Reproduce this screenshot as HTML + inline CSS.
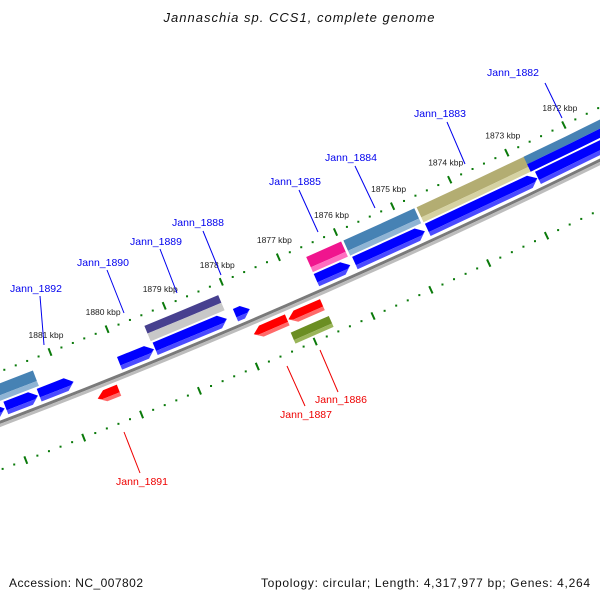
<!DOCTYPE html>
<html><head><meta charset="utf-8"><style>
html,body{margin:0;padding:0;background:#fff;}
svg{display:block;}
</style></head><body>
<svg id="chart" width="600" height="600" viewBox="0 0 600 600" xmlns="http://www.w3.org/2000/svg">
<rect x="0" y="0" width="600" height="600" fill="#fff"/>
<text x="299" y="22" text-anchor="middle" font-family="Liberation Sans, sans-serif" font-style="italic" font-size="13" fill="#111" textLength="271">Jannaschia sp. CCS1, complete genome</text>
<g id="layer"></g>
<text x="9" y="587" font-family="Liberation Sans, sans-serif" font-size="12" fill="#111" textLength="134">Accession: NC_007802</text>
<text x="590" y="587" text-anchor="end" font-family="Liberation Sans, sans-serif" font-size="12" fill="#111" textLength="329">Topology: circular; Length: 4,317,977 bp; Genes: 4,264</text>
</svg>
<script>
// ---- data ----
const kbpTicks = [1872,1873,1874,1875,1876,1877,1878,1879,1880,1881];
const kbpTickLabels = ["1872 kbp","1873 kbp","1874 kbp","1875 kbp","1876 kbp","1877 kbp","1878 kbp","1879 kbp","1880 kbp","1881 kbp"];
// features: start kbp (left), end kbp (right), track, colour key, arrow direction
const featStart = [1882.35,1879.42,1876.59,1875.94,1874.66,1872.79, 1882.4,1882.0,1881.42,1880.02,1879.40,1878.00,1876.59,1875.92,1874.65,1872.73, 1880.56,1877.85,1877.25,1877.30];
const featEnd   = [1881.37,1878.13,1875.98,1874.70,1872.73,1871.3,  1882.02,1881.44,1880.82,1879.42,1878.15,1877.75,1876.00,1874.70,1872.74,1871.3, 1880.19,1877.27,1876.66,1876.64];
const featTrack = ["r1","r1","r1","r1","r1","r1s", "r2","r2","r2","r2","r2","r2","r2","r2","r2","r2", "red","red","red","olive"];
const featColor = ["steel","purple","pink","steel","khaki","steelblue", "blue","blue","blue","blue","blue","blue","blue","blue","blue","blue", "red","red","red","olive"];
const featArrow = [0,0,0,0,0,0, 1,1,1,1,1,1,1,1,1,1, -1,-1,-1,0];
const featName  = ["jann-1892-gene","jann-1889-gene","jann-1885-gene","jann-1884-gene","jann-1883-gene","jann-1882-gene","cds-a","cds-b","cds-c","cds-1890","cds-1889","cds-1888","cds-1885","cds-1884","cds-1883","cds-1882","jann-1891-cds","jann-1887-cds","jann-1886-cds","jann-1886-gene"];
const geneLabels = ["Jann_1882","Jann_1883","Jann_1884","Jann_1885","Jann_1888","Jann_1889","Jann_1890","Jann_1892","Jann_1891","Jann_1887","Jann_1886"];
const geneLabelColor = ["#0000ee","#0000ee","#0000ee","#0000ee","#0000ee","#0000ee","#0000ee","#0000ee","#ee0000","#ee0000","#ee0000"];
const geneLabelX = [513,440,351,295,198,156,103,36,142,306,341];
const geneLabelY = [76,117,161,185,226,245,266,292,485,418,403];
const leaderX1 = [545,447,355,299,203,160,107,40,124,287,320];
const leaderY1 = [83,122,166,190,231,249,270,296,432,366,350];
const leaderX2 = [562,465,375,318,221,177,124,44,140,305,338];
const leaderY2 = [118,164,208,232,275,293,313,345,473,406,392];

// ---- geometry ----
const tracks = {r1:[11,27.5], r1s:[11,27.5], r2:[29.5,43], red:[55,67], olive:[74,86]};
function axisS(k){ return 1881 - k; }
function P(k, d){
  const s = axisS(k);
  const x = 50 + 57.1*s, y = 352 - 22.47*s - 0.3056*s*s;
  const tx = 57.1, ty = -22.47 - 0.6112*s, L = Math.hypot(tx,ty);
  return [x + d*(-ty/L), y + d*(tx/L)];
}
const NS="http://www.w3.org/2000/svg";
const layer=document.getElementById('layer');
function mk(tag, attrs){ const e=document.createElementNS(NS,tag); for(const a in attrs) e.setAttribute(a,attrs[a]); layer.appendChild(e); return e; }
function band(k0,k1,d0,d1,n){
  n=n||2; const top=[],bot=[];
  for(let i=0;i<=n;i++){ const k=k0+(k1-k0)*i/n; top.push(P(k,d0)); bot.push(P(k,d1)); }
  return top.concat(bot.reverse());
}
function pts(a){ return a.map(p=>p[0].toFixed(1)+','+p[1].toFixed(1)).join(' '); }
const pal = {
  blue:["#0000ff","#4b4bff"], red:["#ff0000","#ff6a6a"], steel:["#4682b4","#8fb4d4"],
  steelblue:["#4682b4","#0000ff"], khaki:["#b3ad72","#d6d2a2"], pink:["#f0158e","#ff6ec0"],
  purple:["#47408f","#c8c8c8"], olive:["#6b8e23","#9ab55a"]
};

// backbone
{
  const b1 = mk('polygon',{points:pts(band(1883.5,1869.5,46,49,20)),fill:'#7a7a7a'});
  
  
  const b2 = mk('polygon',{points:pts(band(1883.5,1869.5,49,52,20)),fill:'#bdbdbd'});
  
  
}
// scales
function drawScale(d, nm){
  for(let i=-15;i<=70;i++){
    const k = 1883 - i*0.2;
    const major = Math.abs(k - Math.round(k))<1e-6;
    if(major){
      const a=P(k,d-4), b=P(k,d+4);
      const t = mk('line',{x1:a[0],y1:a[1],x2:b[0],y2:b[1],stroke:'#0a7a0a','stroke-width':2});
      
      
    } else {
      const c=P(k,d);
      const t = mk('rect',{x:c[0]-1,y:c[1]-1,width:2,height:2,fill:'#0a7a0a'});
      
      
    }
  }
}
drawScale(0,'upper-scale');
drawScale(92,'lower-scale');
kbpTicks.forEach((k,i)=>{
  const p=P(k,0);
  const t=mk('text',{x:p[0]-4,y:p[1]-14,'text-anchor':'middle','font-family':'Liberation Sans, sans-serif','font-size':'8.5',fill:'#222'});
  t.textContent=kbpTickLabels[i];
  
  
});
// features
featStart.forEach((k0,i)=>{
  const k1=featEnd[i], tr=tracks[featTrack[i]], c=pal[featColor[i]];
  const d0=tr[0], d1=tr[1], dm = featColor[i]==='steelblue'||featColor[i]==='purple' ? (d0+d1)/2 : d0+(d1-d0)*0.68;
  const arrow=featArrow[i], tip=0.13;
  const g=document.createElementNS(NS,'g'); layer.appendChild(g);
  
  
  let main, lite;
  if(arrow===1){
    main=[P(k0,d0),P(k1+tip,d0),P(k1,(d0+d1)/2),P(k1+tip*0.5,dm),P(k0,dm)];
    lite=[P(k0,dm),P(k1+tip*0.5,dm),P(k1,(d0+d1)/2),P(k1+tip,d1),P(k0,d1)];
  } else if(arrow===-1){
    main=[P(k0-tip,d0),P(k1,d0),P(k1,dm),P(k0-tip*0.5,dm),P(k0,(d0+d1)/2)];
    lite=[P(k0,(d0+d1)/2),P(k0-tip*0.5,dm),P(k1,dm),P(k1,d1),P(k0-tip,d1)];
  } else {
    main=band(k0,k1,d0,dm,2); lite=band(k0,k1,dm,d1,2);
  }
  const a=document.createElementNS(NS,'polygon'); a.setAttribute('points',pts(main)); a.setAttribute('fill',c[0]); g.appendChild(a);
  const b=document.createElementNS(NS,'polygon'); b.setAttribute('points',pts(lite)); b.setAttribute('fill',c[1]); g.appendChild(b);
});
// gene labels
geneLabels.forEach((nm,i)=>{
  const l=mk('line',{x1:leaderX1[i],y1:leaderY1[i],x2:leaderX2[i],y2:leaderY2[i],stroke:geneLabelColor[i],'stroke-width':1});
  
  
  const t=mk('text',{x:geneLabelX[i],y:geneLabelY[i],'text-anchor':'middle','font-family':'Liberation Sans, sans-serif','font-size':'10.5',fill:geneLabelColor[i]});
  t.textContent=nm;
  
  
});
</script>
</body></html>
